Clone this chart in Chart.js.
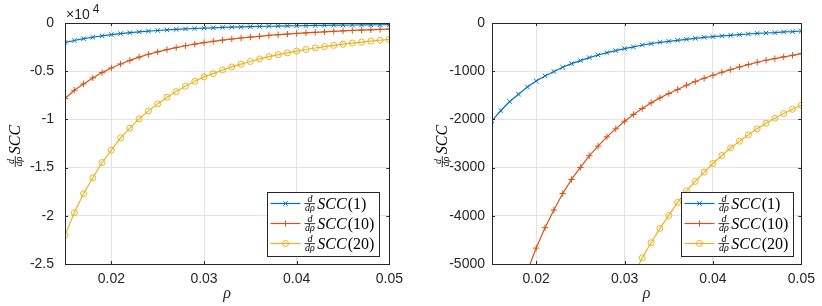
<!DOCTYPE html>
<html>
<head>
<meta charset="utf-8">
<script src="https://cdn.jsdelivr.net/npm/chart.js@4"></script>
<style>
body { margin: 0; background: #fff; }
canvas { position: absolute; top: 0; }
</style>
</head>
<body>
<canvas id="leftChart" width="410" height="306" style="left:0"></canvas>
<canvas id="rightChart" width="412" height="306" style="left:410px"></canvas>
<script>
const rho = [0.015, 0.016, 0.017, 0.018, 0.019, 0.020, 0.021, 0.022, 0.023, 0.024, 0.025, 0.026,
    0.027, 0.028, 0.029, 0.030, 0.031, 0.032, 0.033, 0.034, 0.035, 0.036, 0.037, 0.038,
    0.039, 0.040, 0.041, 0.042, 0.043, 0.044, 0.045, 0.046, 0.047, 0.048, 0.049, 0.050];
const scc1 = [-2030, -1816, -1630, -1478, -1326, -1202, -1098, -1008, -918, -843, -780, -718,
    -663, -615, -573, -532, -497, -456, -428, -400, -380, -359, -338, -318,
    -297, -283, -269, -256, -242, -228, -214, -207, -200, -186, -180, -166];
const scc10 = [-7840, -6975, -6319, -5698, -5145, -4670, -4247, -3881, -3536, -3246, -2997, -2755,
    -2555, -2362, -2196, -2037, -1899, -1775, -1657, -1554, -1464, -1381, -1291, -1215,
    -1146, -1084, -1022, -967, -912, -863, -815, -773, -739, -704, -670, -635];
const scc20 = [-22030, -19680, -17710, -16060, -14470, -13190, -11910, -10910, -9945, -9116, -8391, -7700,
    -7113, -6561, -6043, -5594, -5249, -4870, -4558, -4261, -3992, -3722, -3481, -3287,
    -3094, -2914, -2749, -2590, -2452, -2320, -2196, -2079, -1975, -1878, -1789, -1706];
const seriesNames = ['SCC(1)', 'SCC(10)', 'SCC(20)'];
const xTicks = [0.02, 0.03, 0.04, 0.05];
const yTicksLeft = [0, -5000, -10000, -15000, -20000, -25000];
const yTicksRight = [0, -1000, -2000, -3000, -4000, -5000];

const colors = ['#0072BD', '#D95319', '#EDB120'];
const markers = ['crossRot', 'cross', 'circle'];
const serif = '"Liberation Serif", "DejaVu Serif", serif';
const sans = '"Liberation Sans", Arial, sans-serif';

function makeDatasets() {
    return [scc1, scc10, scc20].map((vals, i) => ({
        label: seriesNames[i],
        data: rho.map((r, j) => ({ x: r, y: vals[j] })),
        borderColor: colors[i],
        borderWidth: 1.2,
        pointStyle: markers[i],
        pointRadius: i === 2 ? 3 : 3.2,
        pointBorderWidth: 1,
        pointBorderColor: colors[i],
        pointBackgroundColor: 'rgba(0,0,0,0)',
        tension: 0
    }));
}

// d/dρ fraction followed by the name, drawn left to right from (x, y baseline)
function drawMath(ctx, x, y, name, size) {
    const fs = Math.round(size * 0.6);
    ctx.save();
    ctx.fillStyle = '#000';
    ctx.textBaseline = 'alphabetic';
    ctx.font = 'italic ' + fs + 'px ' + serif;
    const fw = Math.max(ctx.measureText('d').width, ctx.measureText('dρ').width) + 1;
    const axis = y - size * 0.3;
    ctx.textAlign = 'center';
    ctx.fillText('d', x + fw / 2, axis - 1.5);
    ctx.fillText('dρ', x + fw / 2, axis + fs * 0.72);
    ctx.fillRect(x, axis - 0.4, fw, 0.8);
    let cx = x + fw + 2;
    ctx.textAlign = 'left';
    const m = name.match(/^([A-Za-z]+)(.*)$/);
    ctx.font = 'italic ' + size + 'px ' + serif;
    ctx.fillText(m[1], cx, y);
    cx += ctx.measureText(m[1]).width + 1;
    ctx.font = size + 'px ' + serif;
    ctx.fillText(m[2], cx, y);
    ctx.restore();
}

function drawMarker(ctx, style, x, y, r) {
    ctx.beginPath();
    if (style === 'circle') {
        ctx.arc(x, y, r, 0, Math.PI * 2);
    } else if (style === 'cross') {
        ctx.moveTo(x - r, y); ctx.lineTo(x + r, y);
        ctx.moveTo(x, y - r); ctx.lineTo(x, y + r);
    } else {
        const d = r * 0.75;
        ctx.moveTo(x - d, y - d); ctx.lineTo(x + d, y + d);
        ctx.moveTo(x - d, y + d); ctx.lineTo(x + d, y - d);
    }
    ctx.stroke();
}

const decorPlugin = {
    id: 'decor',
    afterDraw(chart, args, opts) {
        const ctx = chart.ctx;
        const a = chart.chartArea;
        const xs = chart.scales.x, ys = chart.scales.y;
        ctx.save();
        // axis box and inward ticks
        ctx.strokeStyle = '#262626';
        ctx.lineWidth = 1;
        ctx.strokeRect(Math.round(a.left) + 0.5, Math.round(a.top) + 0.5,
            Math.round(a.right - a.left), Math.round(a.bottom - a.top));
        ctx.beginPath();
        xTicks.forEach(v => {
            const px = Math.round(xs.getPixelForValue(v)) + 0.5;
            ctx.moveTo(px, a.bottom); ctx.lineTo(px, a.bottom - 3);
            ctx.moveTo(px, a.top); ctx.lineTo(px, a.top + 3);
        });
        opts.yTicks.forEach(v => {
            const py = Math.round(ys.getPixelForValue(v)) + 0.5;
            ctx.moveTo(a.left, py); ctx.lineTo(a.left + 3, py);
            ctx.moveTo(a.right, py); ctx.lineTo(a.right - 3, py);
        });
        ctx.stroke();

        // legend box in lower right corner
        const w = 112, h = 64;
        const bx = Math.round(a.right - opts.legendInset - w) + 0.5;
        const by = Math.round(a.bottom - 8 - h) + 0.5;
        ctx.fillStyle = '#fff';
        ctx.fillRect(bx, by, w, h);
        ctx.strokeRect(bx, by, w, h);
        seriesNames.forEach((name, i) => {
            const ry = by + 11 + i * 20;
            ctx.strokeStyle = colors[i];
            ctx.lineWidth = 1.2;
            ctx.beginPath();
            ctx.moveTo(bx + 3, ry); ctx.lineTo(bx + 33, ry);
            ctx.stroke();
            ctx.lineWidth = 1;
            drawMarker(ctx, markers[i], bx + 18, ry, 3);
            drawMath(ctx, bx + 37, ry + 5, name, 16);
        });

        // y axis title, rotated
        ctx.translate(opts.yTitleX, 167);
        ctx.rotate(-Math.PI / 2);
        drawMath(ctx, 0, 0, 'SCC', 16);
        ctx.restore();

        if (opts.exponent) {
            ctx.save();
            ctx.fillStyle = '#262626';
            ctx.textBaseline = 'alphabetic';
            ctx.font = '14px ' + sans;
            ctx.fillText('×10', a.left + 1, 19);
            const ew = ctx.measureText('×10').width;
            ctx.font = '12px ' + sans;
            ctx.fillText('4', a.left + 4 + ew, 13);
            ctx.restore();
        }
    }
};

function makeChart(id, cfg) {
    return new Chart(document.getElementById(id), {
        type: 'line',
        data: { datasets: makeDatasets() },
        options: {
            responsive: false,
            animation: false,
            layout: { padding: { top: 23, right: cfg.padRight, left: 0, bottom: 0 } },
            plugins: {
                legend: { display: false },
                tooltip: { enabled: false },
                decor: { yTicks: cfg.yTicks, legendInset: cfg.legendInset, yTitleX: cfg.yTitleX, exponent: cfg.exponent }
            },
            scales: {
                x: {
                    type: 'linear',
                    min: 0.015,
                    max: 0.05,
                    afterBuildTicks: s => { s.ticks = xTicks.map(v => ({ value: v })); },
                    afterFit: s => { s.height = 42; },
                    border: { display: false },
                    grid: { color: '#e3e3e3', drawTicks: false },
                    ticks: {
                        color: '#262626',
                        font: { family: sans, size: 14 },
                        padding: 7,
                        maxRotation: 0,
                        callback: v => v.toFixed(2)
                    },
                    title: {
                        display: true,
                        text: 'ρ',
                        color: '#262626',
                        font: { family: serif, size: 16, style: 'italic' },
                        padding: { top: 0, bottom: 3 }
                    }
                },
                y: {
                    type: 'linear',
                    min: cfg.yTicks[cfg.yTicks.length - 1],
                    max: 0,
                    afterBuildTicks: s => { s.ticks = cfg.yTicks.map(v => ({ value: v })); },
                    afterFit: s => { s.width = cfg.yWidth; },
                    border: { display: false },
                    grid: { color: '#e3e3e3', drawTicks: false },
                    ticks: {
                        color: '#262626',
                        font: { family: sans, size: 14 },
                        padding: cfg.yPad,
                        callback: cfg.yLabel
                    }
                }
            }
        },
        plugins: [decorPlugin]
    });
}

makeChart('leftChart', {
    yTicks: yTicksLeft,
    yWidth: 65,
    yPad: 11,
    padRight: 19,
    legendInset: 10,
    yTitleX: 20,
    exponent: true,
    yLabel: v => String(v / 10000)
});

makeChart('rightChart', {
    yTicks: yTicksRight,
    yWidth: 82,
    yPad: 7,
    padRight: 20,
    legendInset: 8,
    yTitleX: 37,
    exponent: false,
    yLabel: v => String(v)
});
</script>
</body>
</html>
